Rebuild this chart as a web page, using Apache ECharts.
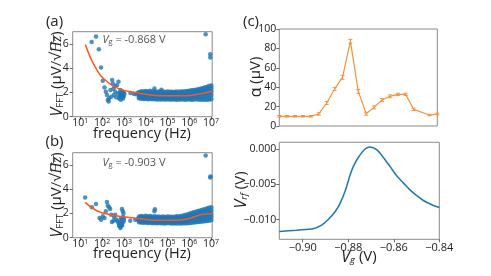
<!DOCTYPE html>
<html><head><meta charset="utf-8">
<script src="https://cdn.jsdelivr.net/npm/echarts@6/dist/echarts.min.js"></script>
<style>html,body{margin:0;padding:0;background:#fff}#c{width:491px;height:276px}</style>
</head><body><div id="c"></div>
<script>
// ---------- DATA ----------
const freqTickExps = [1, 2, 3, 4, 5, 6, 7];
const vfftTicks = [0, 2, 4, 6];
const alphaTicks = [0, 20, 40, 60, 80, 100];
const vgTicks = [-0.90, -0.88, -0.86, -0.84];
const vrfTicks = [0, -0.005, -0.010];

// panel (a) Vg = -0.868 V : sparse points (log10 f, V_FFT)
const aSparseLogF = [1.52,1.72,1.85,1.95,2.03,2.11,2.17,2.22,2.26,2.30,2.32,2.38,2.42,2.46,2.49,2.52,2.54,2.58,2.60,2.64,2.68,2.72,2.75,2.78,2.80,2.82,2.84,2.86,2.88,2.90,2.92,2.94,2.96,2.98,3.00,2.85,2.90,2.95,2.80,3.02,3.30,3.45,3.55,3.62,4.40,4.72,6.75,6.96,6.96];
const aSparseV    = [6.16,6.60,5.56,4.06,2.96,2.41,2.05,1.78,1.37,1.25,1.51,2.19,1.65,3.02,2.74,2.30,1.78,2.50,2.05,1.60,2.60,1.90,2.88,1.50,2.00,1.70,2.20,1.40,1.90,1.60,2.10,1.80,1.50,2.00,1.70,1.85,1.95,1.65,1.55,1.90,1.95,1.90,1.85,1.95,2.33,2.22,6.80,5.15,4.88];
// dense band (log10 f) read as five levels from bottom to top
const bandLogF = [3.7,3.8,3.9,4.0,4.1,4.2,4.3,4.4,4.5,4.6,4.7,4.8,4.9,5.0,5.1,5.2,5.3,5.4,5.5,5.6,5.7,5.8,5.9,6.0,6.1,6.2,6.3,6.4,6.5,6.6,6.7,6.8,6.9,7.0];
const aBandLo  = [1.55,1.50,1.47,1.50,1.46,1.48,1.45,1.47,1.43,1.46,1.44,1.45,1.43,1.46,1.44,1.43,1.45,1.42,1.44,1.43,1.45,1.42,1.43,1.45,1.42,1.44,1.45,1.43,1.44,1.42,1.44,1.42,1.44,1.45];
const aBandQ1  = [1.62,1.64,1.60,1.63,1.59,1.62,1.58,1.61,1.57,1.60,1.57,1.59,1.56,1.60,1.57,1.58,1.56,1.59,1.57,1.60,1.58,1.60,1.61,1.63,1.62,1.65,1.66,1.67,1.69,1.70,1.72,1.73,1.76,1.78];
const aBandMid = [1.80,1.78,1.76,1.78,1.74,1.77,1.73,1.75,1.72,1.74,1.71,1.73,1.70,1.74,1.71,1.72,1.70,1.73,1.71,1.74,1.72,1.75,1.76,1.78,1.80,1.83,1.85,1.88,1.91,1.94,1.97,2.00,2.04,2.08];
const aBandQ3  = [1.92,1.94,1.90,1.95,1.91,1.95,1.89,1.92,1.88,1.90,1.87,1.89,1.86,1.90,1.87,1.88,1.86,1.89,1.87,1.90,1.89,1.92,1.94,1.96,1.98,2.02,2.04,2.08,2.10,2.14,2.18,2.22,2.28,2.32];
const aBandHi  = [2.02,2.08,2.05,2.10,2.06,2.12,2.05,2.08,2.04,2.06,2.03,2.05,2.02,2.06,2.03,2.04,2.02,2.05,2.03,2.06,2.05,2.08,2.10,2.12,2.15,2.18,2.20,2.25,2.28,2.32,2.38,2.42,2.50,2.55];
const aFitLogF = [1.23,1.45,1.68,1.91,2.14,2.45,2.83,3.29,3.75,4.21,4.67,5.29,5.70,6.06,6.44,6.75,7.05];
const aFitV    = [5.95,4.93,4.10,3.43,3.02,2.60,2.25,2.05,1.92,1.78,1.72,1.72,1.72,1.75,1.86,1.97,2.11];

// panel (b) Vg = -0.903 V
const bSparseLogF = [1.22,1.53,1.72,1.88,1.95,2.03,2.11,2.17,2.22,2.26,2.32,2.37,2.42,2.45,2.52,2.55,2.60,2.65,2.70,2.75,2.78,2.80,2.82,2.84,2.86,2.88,2.90,2.91,2.93,2.95,2.96,2.98,2.99,3.00,2.87,2.92,3.29,3.52,3.62,4.40,4.42,6.75,6.96,6.97];
const bSparseV    = [3.32,2.50,2.77,1.62,1.48,1.76,1.62,2.17,2.93,2.66,2.50,2.36,1.90,1.29,1.40,1.70,1.89,1.50,1.35,1.21,1.00,0.94,1.30,0.80,1.60,1.10,1.45,2.36,1.20,2.17,1.70,2.00,1.35,1.55,0.95,1.00,1.40,1.48,1.55,2.17,2.35,6.77,4.96,5.05];
const bBandLo  = [1.30,1.27,1.25,1.27,1.23,1.25,1.22,1.24,1.21,1.23,1.21,1.22,1.20,1.23,1.21,1.20,1.22,1.19,1.21,1.20,1.22,1.21,1.22,1.24,1.25,1.27,1.30,1.32,1.34,1.36,1.38,1.40,1.42,1.45];
const bBandQ1  = [1.40,1.38,1.36,1.38,1.34,1.36,1.33,1.35,1.32,1.34,1.31,1.33,1.30,1.34,1.31,1.31,1.30,1.32,1.31,1.33,1.34,1.36,1.38,1.41,1.44,1.47,1.50,1.53,1.56,1.59,1.62,1.65,1.68,1.70];
const bBandMid = [1.50,1.48,1.46,1.48,1.44,1.47,1.43,1.45,1.42,1.44,1.41,1.43,1.40,1.44,1.41,1.42,1.40,1.43,1.42,1.45,1.46,1.50,1.54,1.58,1.62,1.66,1.70,1.74,1.78,1.82,1.86,1.90,1.94,1.96];
const bBandQ3  = [1.61,1.62,1.59,1.63,1.59,1.62,1.57,1.60,1.56,1.59,1.55,1.58,1.54,1.59,1.56,1.57,1.55,1.59,1.57,1.61,1.62,1.67,1.72,1.77,1.82,1.87,1.91,1.96,2.00,2.05,2.09,2.14,2.19,2.22];
const bBandHi  = [1.72,1.76,1.72,1.78,1.73,1.76,1.70,1.74,1.70,1.73,1.69,1.72,1.68,1.73,1.70,1.71,1.69,1.74,1.72,1.76,1.78,1.84,1.90,1.96,2.02,2.08,2.12,2.18,2.22,2.28,2.32,2.38,2.44,2.48];
const bFitLogF = [1.22,1.76,2.37,3.14,3.75,4.52,5.29,5.90,6.29,6.59,7.05];
const bFitV    = [2.91,2.22,1.89,1.68,1.56,1.43,1.43,1.54,1.76,1.92,2.00];

// panel (c) top: alpha vs Vg with error
const alphaVg  = [-0.910,-0.9065,-0.903,-0.8995,-0.896,-0.8925,-0.889,-0.8855,-0.882,-0.8785,-0.875,-0.8715,-0.868,-0.8645,-0.861,-0.8575,-0.854,-0.8505,-0.8435,-0.840];
const alphaVal = [10,10,10,10,10,12.4,23.7,38.1,50.2,87.3,35.7,12.7,19.2,26.8,30.6,32.6,32.6,17.2,11.3,12.4];
const alphaErr = [0.8,0.8,0.8,0.8,0.8,1.2,1.5,1.5,2,2,2,1.5,1.5,1.5,1.5,1.2,1.2,1.2,0.8,0.8];

// panel (c) bottom: Vrf vs Vg
const vrfVg  = [-0.9103,-0.9027,-0.8954,-0.8917,-0.8888,-0.8858,-0.8836,-0.8814,-0.8792,-0.8778,-0.8756,-0.8726,-0.8704,-0.8675,-0.8646,-0.8616,-0.8587,-0.8558,-0.8529,-0.8499,-0.8470,-0.8433,-0.8400];
const vrfVal = [-0.0117,-0.0115,-0.0113,-0.0108,-0.0100,-0.0089,-0.0077,-0.0060,-0.0037,-0.0025,-0.0012,0.0000,0.0003,-0.0001,-0.0012,-0.0025,-0.0038,-0.0048,-0.0058,-0.0066,-0.0073,-0.0079,-0.0083];

// ---------- CHART ----------
const FONT = 'Open Sans';
const zip = (a, b) => a.map((v, i) => [v, b[i]]);
const BLUE = '#1f77b4', FIT = '#ff5522', ORANGE = '#f8923a';
const minus = s => s.replace('-', '\u2212');

const grids = [
  {left: 72.7, top: 31.7, width: 139.5, height: 85},
  {left: 72.7, top: 152.7, width: 139.5, height: 85},
  {left: 279.3, top: 29, width: 158, height: 97},
  {left: 279.3, top: 142.3, width: 160, height: 97}
].map(g => Object.assign({show: true, borderColor: '#8a8a8a', borderWidth: 1, backgroundColor: 'transparent'}, g));

const tickStyle = {show: true, length: 3, lineStyle: {color: '#444', width: 0.8}};
const lbl = {color: '#222', fontFamily: FONT, fontSize: 10.5, margin: 4};
const noLine = {show: false, onZero: false};

function freqX(gi) {
  return {gridIndex: gi, type: 'value', min: 0.65, max: 7.05,
    axisLine: noLine, splitLine: {show: false},
    axisTick: Object.assign({customValues: freqTickExps}, tickStyle),
    axisLabel: Object.assign({}, lbl, {customValues: freqTickExps, margin: 1,
      formatter: v => '{b|10}{e|' + v + '}',
      rich: {b: {fontSize: 10.5, color: '#222', fontFamily: FONT, lineHeight: 11},
             e: {fontSize: 7, color: '#222', fontFamily: FONT, verticalAlign: 'top', lineHeight: 7}}})};
}
function vfftY(gi) {
  return {gridIndex: gi, type: 'value', min: 0, max: 7,
    axisLine: noLine, splitLine: {show: false},
    axisTick: Object.assign({customValues: vfftTicks}, tickStyle),
    axisLabel: Object.assign({}, lbl, {customValues: vfftTicks})};
}

const xAxis = [
  freqX(0), freqX(1),
  {gridIndex: 2, type: 'value', min: -0.910, max: -0.840, axisLine: noLine, axisTick: {show: false}, axisLabel: {show: false}, splitLine: {show: false}},
  {gridIndex: 3, type: 'value', min: -0.9103, max: -0.840, axisLine: noLine, splitLine: {show: false},
    axisTick: Object.assign({customValues: vgTicks}, tickStyle),
    axisLabel: Object.assign({}, lbl, {fontSize: 11, margin: 3, customValues: vgTicks, formatter: v => minus(v.toFixed(2))})}
];
const yAxis = [
  vfftY(0), vfftY(1),
  {gridIndex: 2, type: 'value', min: 0, max: 100, axisLine: noLine, splitLine: {show: false},
    axisTick: Object.assign({customValues: alphaTicks}, tickStyle),
    axisLabel: Object.assign({}, lbl, {customValues: alphaTicks, margin: 3})},
  {gridIndex: 3, type: 'value', min: -0.0128, max: 0.00095, axisLine: noLine, splitLine: {show: false},
    axisTick: Object.assign({customValues: vrfTicks}, tickStyle),
    axisLabel: Object.assign({}, lbl, {customValues: vrfTicks, margin: 3, formatter: v => minus(v.toFixed(3))})}
];

function scatter(gi, data, size) {
  return {type: 'scatter', xAxisIndex: gi, yAxisIndex: gi, data: data, symbolSize: size || 4.5,
    itemStyle: {color: BLUE}, silent: true, animation: false};
}
function bandPts(rows) {
  return [].concat.apply([], rows.map(r => zip(bandLogF, r)));
}
function fitLine(gi, data) {
  return {type: 'line', xAxisIndex: gi, yAxisIndex: gi, data: data, smooth: 0.4, symbol: 'none',
    lineStyle: {color: FIT, width: 1.5}, z: 5, animation: false};
}

const series = [
  scatter(0, zip(aSparseLogF, aSparseV)),
  scatter(0, bandPts([aBandLo, aBandQ1, aBandMid, aBandQ3, aBandHi]), 5),
  fitLine(0, zip(aFitLogF, aFitV)),
  scatter(1, zip(bSparseLogF, bSparseV)),
  scatter(1, bandPts([bBandLo, bBandQ1, bBandMid, bBandQ3, bBandHi]), 5),
  fitLine(1, zip(bFitLogF, bFitV)),
  {type: 'line', xAxisIndex: 2, yAxisIndex: 2, data: zip(alphaVg, alphaVal), symbol: 'none',
    lineStyle: {color: ORANGE, width: 1.2}, animation: false},
  {type: 'custom', xAxisIndex: 2, yAxisIndex: 2, animation: false,
    data: alphaVg.map((x, i) => [x, alphaVal[i], alphaErr[i]]),
    renderItem: function (params, api) {
      const x = api.value(0), y = api.value(1), e = api.value(2);
      const top = api.coord([x, y + e]), bot = api.coord([x, y - e]);
      const st = {stroke: ORANGE, lineWidth: 1};
      return {type: 'group', children: [
        {type: 'line', shape: {x1: top[0], y1: top[1], x2: bot[0], y2: bot[1]}, style: st},
        {type: 'line', shape: {x1: top[0] - 2, y1: top[1], x2: top[0] + 2, y2: top[1]}, style: st},
        {type: 'line', shape: {x1: bot[0] - 2, y1: bot[1], x2: bot[0] + 2, y2: bot[1]}, style: st}
      ]};
    }},
  {type: 'line', xAxisIndex: 3, yAxisIndex: 3, data: zip(vrfVg, vrfVal), smooth: 0.3, symbol: 'none',
    lineStyle: {color: BLUE, width: 1.5}, animation: false}
];

const T = (x, y, text, size) => ({type: 'text', x: x, y: y,
  style: {text: text, fill: '#222', font: size + 'px "' + FONT + '"', align: 'center', verticalAlign: 'middle'}});

const richV = {
  v: {fontSize: 16, fontStyle: 'italic', fontFamily: FONT, fill: '#222', lineHeight: 17},
  s: {fontSize: 9.5, fontFamily: FONT, fill: '#222', verticalAlign: 'bottom', lineHeight: 9},
  n: {fontSize: 15, fontFamily: FONT, fill: '#222', lineHeight: 17},
  ni: {fontSize: 15, fontFamily: FONT, fontStyle: 'italic', fill: '#222', lineHeight: 17}
};
const yLabelFFT = '{v|V}{s|FFT}{n| (\u03bcV/\u221a}{ni|H\u0305z\u0305}{n|)}';
const richAnn = {
  v: {fontSize: 11, fontStyle: 'italic', fontFamily: FONT, fill: '#555', lineHeight: 12},
  s: {fontSize: 7.5, fontFamily: FONT, fill: '#555', verticalAlign: 'bottom', lineHeight: 6},
  n: {fontSize: 11, fontFamily: FONT, fill: '#555', lineHeight: 12}
};
function rtext(x, y, text, rich, rot) {
  return {type: 'text', x: x, y: y, rotation: rot || 0,
    style: {text: text, rich: rich, align: 'center', verticalAlign: 'middle'}};
}
const subI = Object.assign({}, richV.s, {fontStyle: 'italic'});

const graphic = [
  T(54.5, 21.5, '(a)', 15),
  T(54.5, 142, '(b)', 15),
  T(251, 21.5, '(c)', 15),
  T(142, 133.5, 'frequency (Hz)', 14.5),
  T(142, 254, 'frequency (Hz)', 14.5),
  rtext(57, 74, yLabelFFT, richV, Math.PI / 2),
  rtext(57, 195, yLabelFFT, richV, Math.PI / 2),
  rtext(256, 77, '{a|\u03b1}{n| (\u03bcV)}', {a: {fontSize: 16, fontFamily: FONT, fill: '#222'}, n: {fontSize: 15, fontFamily: FONT, fill: '#222'}}, Math.PI / 2),
  rtext(241, 190, '{v|V}{s|rf}{n| (V)}', {v: richV.v, s: subI, n: richV.n}, Math.PI / 2),
  rtext(359, 257, '{v|V}{s|g}{n| (V)}', {v: richV.v, s: subI, n: richV.n}, 0),
  rtext(134, 39.5, '{v|V}{s|g}{n| = -0.868 V}', richAnn, 0),
  rtext(134, 162.5, '{v|V}{s|g}{n| = -0.903 V}', richAnn, 0)
];

const chart = echarts.init(document.getElementById('c'), null, {renderer: 'canvas'});
chart.setOption({animation: false, grid: grids, xAxis: xAxis, yAxis: yAxis, series: series, graphic: graphic});
</script></body></html>
